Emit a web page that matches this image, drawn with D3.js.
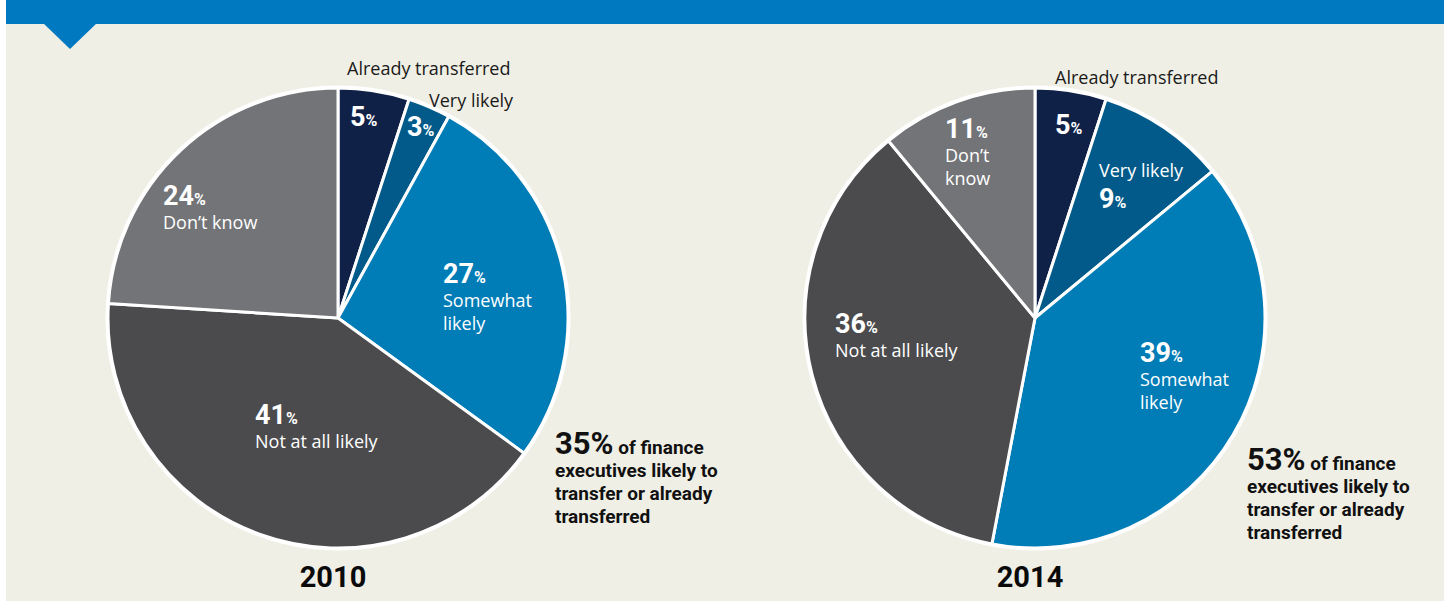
<!DOCTYPE html>
<html>
<head>
<meta charset="utf-8">
<script src="https://cdn.jsdelivr.net/npm/d3@7"></script>
<style>
  html, body { margin: 0; padding: 0; background: #ffffff; }
  svg { display: block; }
  .lbl { font-family: "Open Sans", "Noto Sans", sans-serif; }
  .num { font-family: "Liberation Sans Narrow", "Roboto", "Open Sans", sans-serif; font-weight: 700; }
  .note { font-family: "Liberation Sans Narrow", "Roboto", sans-serif; font-weight: 700; }
</style>
</head>
<body>
<svg id="chart" width="1447" height="601"></svg>
<script>
// Survey answers: likelihood of transferring finance functions
const categories = ["Already transferred", "Very likely", "Somewhat likely", "Not at all likely", "Don’t know"];
const values2010 = [5, 3, 27, 41, 24];
const values2014 = [5, 9, 39, 36, 11];
const years = ["2010", "2014"];
const sliceColors = ["#102148", "#015a89", "#007cb6", "#4b4b4e", "#737477"];

// Text lines shown inside / beside each slice
const sliceText2010 = [[], [], ["Somewhat", "likely"], ["Not at all likely"], ["Don’t know"]];
const sliceText2014 = [[], ["Very likely"], ["Somewhat", "likely"], ["Not at all likely"], ["Don’t", "know"]];

const W = 1447, H = 601;
const svg = d3.select("#chart");

// Page panel and header band with pointer
svg.append("rect").attr("x", 6).attr("y", 0).attr("width", 1438).attr("height", H).attr("fill", "#f0efe5");
svg.append("rect").attr("x", 6).attr("y", 0).attr("width", 1438).attr("height", 24).attr("fill", "#0079c1");
svg.append("path").attr("d", "M43,23 L97,23 L70,49 Z").attr("fill", "#0079c1");

const radius = 230;
const pie = d3.pie().sort(null).value(d => d);
const arc = d3.arc().innerRadius(0).outerRadius(radius);

// Per-chart layout: centres and label anchor offsets (relative to centre)
const charts = [
  {
    year: years[0], values: values2010, text: sliceText2010, cx: 338, cy: 318,
    pct: [[12, -192], [69, -182], [105, -35], [-83, 106], [-175, -113]],
    outside: [{ t: categories[0], x: 9, y: -243 }, { t: categories[1], x: 91, y: -211 }],
    textAbove: [false, false, false, false, false],
    note: [217, 136]
  },
  {
    year: years[1], values: values2014, text: sliceText2014, cx: 1035, cy: 318,
    pct: [[20, -184], [64, -110], [105, 44], [-200, 15], [-90, -180]],
    outside: [{ t: categories[0], x: 20, y: -234 }],
    textAbove: [false, true, false, false, false],
    note: [212, 152]
  }
];

charts.forEach(c => {
  const g = svg.append("g").attr("transform", `translate(${c.cx},${c.cy})`);
  const arcs = pie(c.values);

  g.selectAll("path.slice")
    .data(arcs)
    .join("path")
    .attr("class", "slice")
    .attr("d", arc)
    .attr("fill", (d, i) => sliceColors[i])
    .attr("stroke", "#ffffff")
    .attr("stroke-width", 3)
    .attr("stroke-linejoin", "round");

  // outer white rim
  g.append("circle").attr("r", radius + 1).attr("fill", "none").attr("stroke", "#ffffff").attr("stroke-width", 3);

  // value labels inside slices
  arcs.forEach((d, i) => {
    const [ox, oy] = c.pct[i];
    const lines = c.text[i];
    let y = oy;
    if (c.textAbove[i]) {
      lines.forEach((ln, k) => {
        g.append("text").attr("class", "lbl").attr("x", ox).attr("y", oy - 31 + k * 22)
          .attr("fill", "#ffffff").attr("font-size", 18).text(ln);
      });
    }
    const t = g.append("text").attr("class", "num").attr("x", ox).attr("y", y).attr("fill", "#ffffff");
    t.append("tspan").attr("font-size", 27).text(d.data);
    t.append("tspan").attr("font-size", 16).text("%");
    if (!c.textAbove[i]) {
      lines.forEach((ln, k) => {
        g.append("text").attr("class", "lbl").attr("x", ox).attr("y", oy + 24 + k * 23)
          .attr("fill", "#ffffff").attr("font-size", 18).text(ln);
      });
    }
  });

  // category names placed outside the pie
  c.outside.forEach(o => {
    g.append("text").attr("class", "lbl").attr("x", o.x).attr("y", o.y)
      .attr("fill", "#1a1a1a").attr("font-size", 18).text(o.t);
  });

  // summary note: share likely to transfer or already transferred
  const share = d3.sum(c.values.slice(0, 3));
  const noteLines = ["executives likely to", "transfer or already", "transferred"];
  const n = g.append("text").attr("class", "note").attr("x", c.note[0]).attr("y", c.note[1]).attr("fill", "#111111");
  n.append("tspan").attr("font-size", 31).text(share + "%");
  n.append("tspan").attr("font-size", 19).text(" of finance");
  noteLines.forEach((ln, k) => {
    g.append("text").attr("class", "note").attr("x", c.note[0]).attr("y", c.note[1] + 23 * (k + 1))
      .attr("fill", "#111111").attr("font-size", 19).text(ln);
  });

  // year title
  g.append("text").attr("class", "note").attr("x", -5).attr("y", 269).attr("text-anchor", "middle")
    .attr("fill", "#0a0a0a").attr("font-size", 29).text(c.year);
});
</script>
</body>
</html>
